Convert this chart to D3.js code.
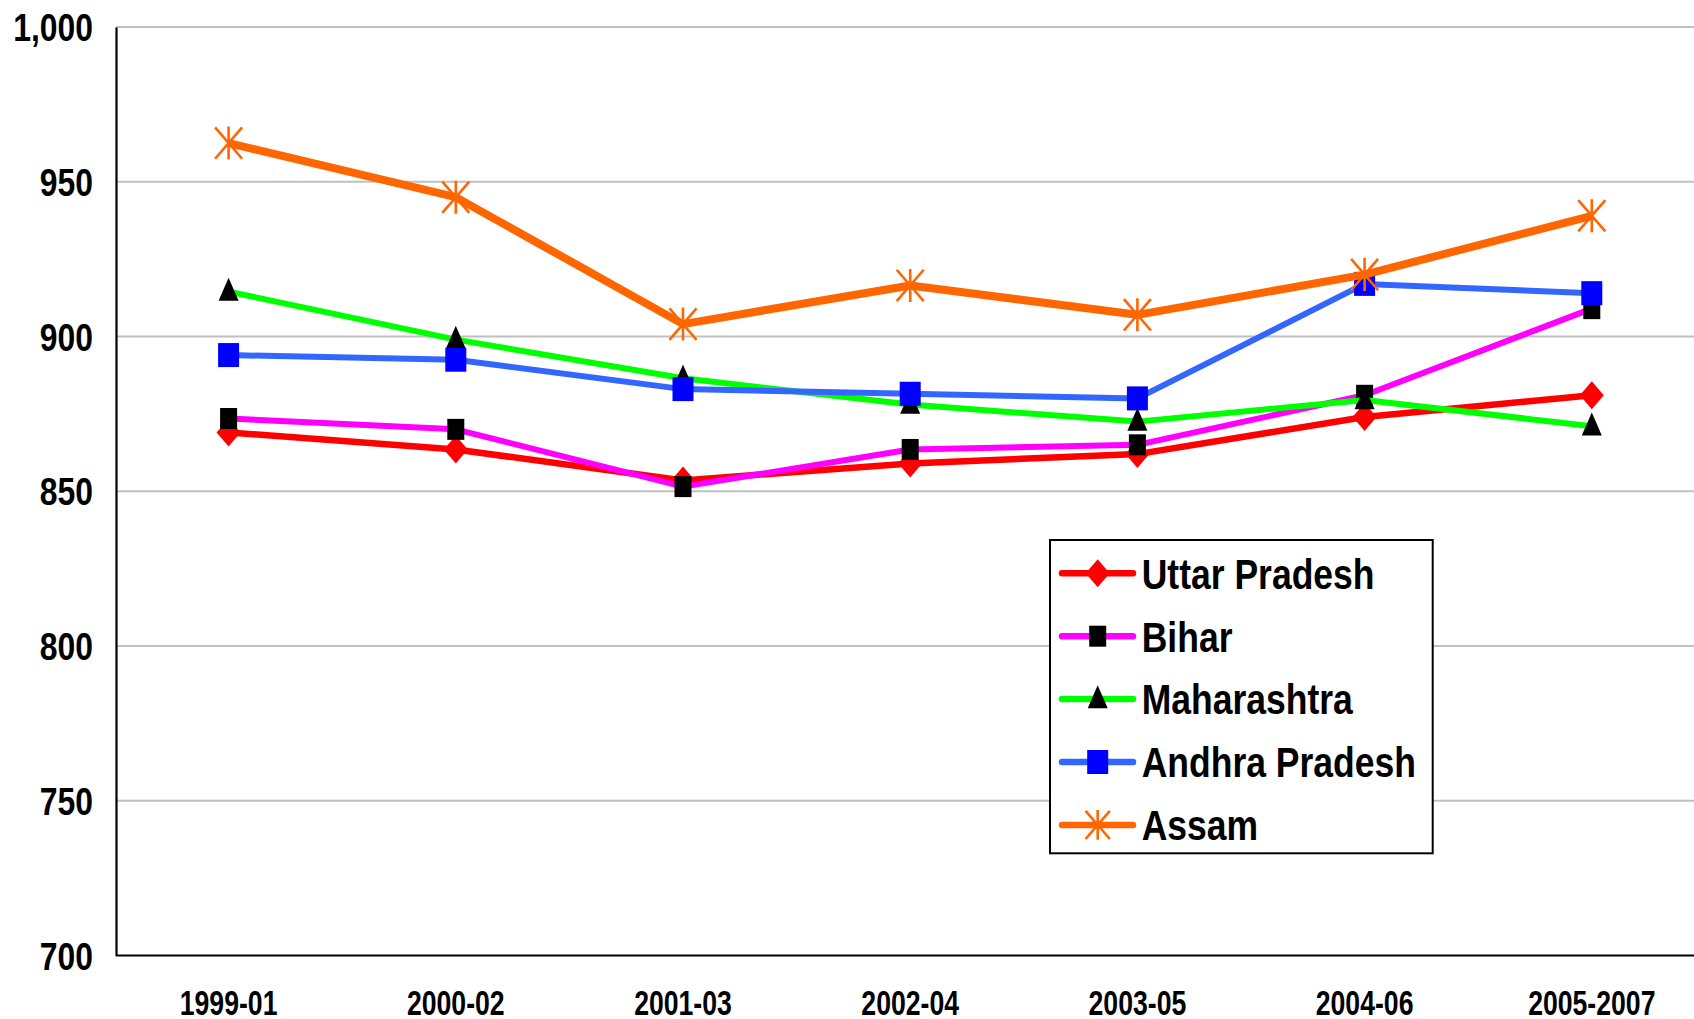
<!DOCTYPE html>
<html>
<head>
<meta charset="utf-8">
<script src="https://cdn.jsdelivr.net/npm/d3@7"></script>
<style>
  html, body { margin: 0; padding: 0; background: #fff; }
  svg { display: block; }
  text { font-family: "Liberation Sans", Arial, sans-serif; font-weight: bold; fill: #000; }
</style>
</head>
<body>
<svg id="chart" width="1694" height="1019"></svg>
<script>
// Periods on the x axis
const periods = ["1999-01", "2000-02", "2001-03", "2002-04", "2003-05", "2004-06", "2005-2007"];

// Y axis tick values
const yTicks = [700, 750, 800, 850, 900, 950, 1000];

// Series values per period
const uttarPradesh   = [869, 863.5, 853.5, 859, 862, 874, 881];
const bihar          = [873.5, 870, 851.5, 863.5, 865, 881, 909];
const maharashtra    = [914.5, 899, 886.5, 878, 872.5, 879.5, 871];
const andhraPradesh  = [894, 892.5, 883, 881.5, 880, 917, 914];
const assam          = [962.5, 945, 904, 916.5, 907, 920, 939];

const seriesNames = ["Uttar Pradesh", "Bihar", "Maharashtra", "Andhra Pradesh", "Assam"];

const series = [
  { name: seriesNames[0], values: uttarPradesh,  line: "#FF0000", marker: "diamond",  fill: "#FF0000", width: 6.5 },
  { name: seriesNames[1], values: bihar,         line: "#FF00FF", marker: "square",   fill: "#000000", width: 6 },
  { name: seriesNames[2], values: maharashtra,   line: "#00FF00", marker: "triangle", fill: "#000000", width: 6 },
  { name: seriesNames[3], values: andhraPradesh, line: "#3366FF", marker: "bigsquare",fill: "#0000FF", width: 6 },
  { name: seriesNames[4], values: assam,         line: "#FF6600", marker: "asterisk", fill: "#FF6600", width: 8 }
];

const svg = d3.select("#chart");

const plotLeft = 116, plotRight = 1694, plotTop = 27, plotBottom = 955.5;

const x = d3.scaleBand().domain(periods).range([115, 115 + 7 * 227.2]);
const cx = d => x(d) + x.bandwidth() / 2;
const y = d3.scaleLinear().domain([700, 1000]).range([plotBottom, plotTop]);

// Narrow bold lettering: squeeze text horizontally about its anchor
function condense(sel, sx) {
  sel.each(function () {
    const t = d3.select(this);
    const x0 = +t.attr("x") || 0;
    t.attr("x", x0 / sx).attr("transform", `scale(${sx},1)`);
  });
}

// Horizontal gridlines
svg.append("g")
  .selectAll("line")
  .data(yTicks.filter(v => v > 700))
  .join("line")
  .attr("x1", plotLeft).attr("x2", plotRight)
  .attr("y1", d => y(d)).attr("y2", d => y(d))
  .attr("stroke", "#C0C0C0").attr("stroke-width", 2);

// Y axis with comma-formatted labels
const yAxis = d3.axisLeft(y).tickValues(yTicks).tickSize(0).tickPadding(23).tickFormat(d3.format(","));
const gy = svg.append("g").attr("transform", `translate(${plotLeft},0)`).call(yAxis);
gy.select(".domain").attr("stroke", "#000").attr("stroke-width", 2.2);
gy.selectAll("text").attr("font-size", 38).attr("dy", "0.36em")
  .style("font-family", null).attr("fill", "#000");
gy.selectAll("text").call(condense, 0.84);

// X axis
const xAxis = d3.axisBottom(x).tickSize(0).tickPadding(0);
const gx = svg.append("g").attr("transform", `translate(0,${plotBottom})`).call(xAxis);
gx.select(".domain").attr("d", `M${plotLeft},0H${plotRight + 20}`).attr("stroke", "#000").attr("stroke-width", 2.2);
gx.selectAll("text").attr("font-size", 36).attr("y", 59.5).attr("dy", 0).attr("x", 0);
gx.selectAll("text").call(condense, 0.74);

// Marker drawing helper
function drawMarker(g, type, fill, px, py, scale = 1) {
  if (type === "diamond") {
    const w = 12 * scale, h = 14 * scale;
    g.append("path").attr("d", `M${px},${py - h}L${px + w},${py}L${px},${py + h}L${px - w},${py}Z`).attr("fill", fill);
  } else if (type === "square") {
    const w = 17 * scale, h = 21 * scale;
    g.append("rect").attr("x", px - w / 2).attr("y", py - h / 2).attr("width", w).attr("height", h).attr("fill", fill);
  } else if (type === "bigsquare") {
    const w = 21 * scale, h = 24 * scale;
    g.append("rect").attr("x", px - w / 2).attr("y", py - h / 2).attr("width", w).attr("height", h).attr("fill", fill);
  } else if (type === "triangle") {
    const w = 20 * scale, h = 23 * scale;
    g.append("path").attr("d", `M${px},${py - h * 0.6}L${px + w / 2},${py + h * 0.4}L${px - w / 2},${py + h * 0.4}Z`).attr("fill", fill);
  } else if (type === "asterisk") {
    const w = 13.5 * scale, h = 16.5 * scale;
    g.append("path")
      .attr("d", `M${px},${py - h}V${py + h}M${px - w},${py - h * 0.95}L${px + w},${py + h * 0.95}M${px + w},${py - h * 0.95}L${px - w},${py + h * 0.95}`)
      .attr("stroke", fill).attr("stroke-width", 2.6).attr("fill", "none");
  }
}

const line = d3.line().x((d, i) => cx(periods[i])).y(d => y(d));

// Lines and markers, one series at a time
series.forEach(s => {
  const g = svg.append("g");
  g.append("path").datum(s.values).attr("d", line)
    .attr("fill", "none").attr("stroke", s.line).attr("stroke-width", s.width)
    .attr("stroke-linejoin", "round");
  s.values.forEach((v, i) => drawMarker(g, s.marker, s.fill, cx(periods[i]), y(v)));
});

// Legend
const legend = svg.append("g");
legend.append("rect").attr("x", 1050).attr("y", 540).attr("width", 382.7).attr("height", 313.3)
  .attr("fill", "#fff").attr("stroke", "#000").attr("stroke-width", 2);
series.forEach((s, i) => {
  const ry = 573.3 + i * 62.9;
  const row = legend.append("g");
  row.append("line").attr("x1", 1062).attr("x2", 1133).attr("y1", ry).attr("y2", ry)
    .attr("stroke", s.line).attr("stroke-width", 6.5).attr("stroke-linecap", "round");
  drawMarker(row, s.marker, s.fill, 1097.7, ry, s.marker === "asterisk" ? 0.9 : 1);
  row.append("g").attr("transform", `translate(1141.7,${ry + 15.3})`)
    .append("text").attr("font-size", 43).text(s.name)
    .call(condense, 0.826);
});
</script>
</body>
</html>
